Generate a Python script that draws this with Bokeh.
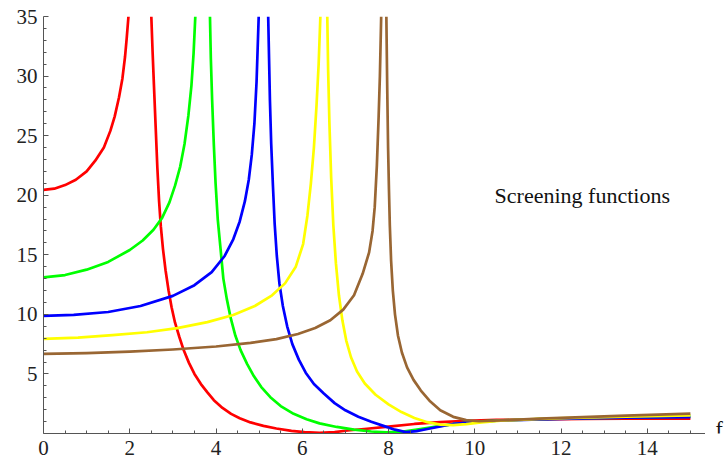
from bokeh.plotting import figure
from bokeh.models import FixedTicker, Label, Range1d
from bokeh.layouts import row
from bokeh.embed import file_html
from bokeh.resources import INLINE

# ---------------- data ----------------
x_major = [0, 2, 4, 6, 8, 10, 12, 14]
x_minor = [0.5, 1, 1.5, 2.5, 3, 3.5, 4.5, 5, 5.5, 6.5, 7, 7.5, 8.5, 9, 9.5,
           10.5, 11, 11.5, 12.5, 13, 13.5, 14.5, 15]
y_major = [5, 10, 15, 20, 25, 30, 35]
y_minor = [1, 2, 3, 4, 6, 7, 8, 9, 11, 12, 13, 14, 16, 17, 18, 19, 21, 22, 23, 24,
           26, 27, 28, 29, 31, 32, 33, 34]

red_left_x = [0, 0.25, 0.5, 0.75, 1.0, 1.2, 1.4, 1.55, 1.65, 1.75, 1.83, 1.89, 1.93, 1.97]
red_left_y = [20.45, 20.55, 20.85, 21.3, 22.0, 22.9, 24.0, 25.4, 26.6, 28.2, 29.8, 31.6, 33.2, 35.0]
red_right_x = [2.50, 2.53, 2.56, 2.60, 2.64, 2.68, 2.72, 2.77, 2.83, 2.90, 2.97, 3.05, 3.15,
               3.25, 3.37, 3.50, 3.65, 3.80, 3.95, 4.15, 4.35, 4.55, 4.8, 5.1, 5.4, 5.75,
               6.05, 6.4, 6.75, 7.05, 7.5, 8.0, 8.6, 9.2, 9.8, 10.5, 11.5, 12.5, 13.5, 15]
red_right_y = [35, 32, 29.3, 25.8, 22.3, 19.5, 17.4, 15.5, 13.7, 12.0, 10.6, 9.3, 8.1,
               7.0, 5.95, 5.0, 4.15, 3.45, 2.8, 2.15, 1.65, 1.28, 0.93, 0.64, 0.42, 0.22,
               0.11, 0.05, 0.12, 0.25, 0.4, 0.58, 0.8, 0.96, 1.07, 1.14, 1.19, 1.22, 1.24, 1.25]

green_left_x = [0, 0.5, 1.0, 1.5, 2.0, 2.3, 2.55, 2.75, 2.92, 3.05, 3.17, 3.27, 3.36, 3.43, 3.48, 3.52]
green_left_y = [13.1, 13.3, 13.75, 14.4, 15.4, 16.2, 17.1, 18.1, 19.4, 20.8, 22.4, 24.3, 26.7, 29.2, 31.9, 35]
green_right_x = [3.86, 3.88, 3.91, 3.95, 3.99, 4.04, 4.10, 4.17, 4.25, 4.34, 4.45, 4.57, 4.72,
                 4.88, 5.05, 5.26, 5.5, 5.8, 6.1, 6.4, 6.8, 7.2, 7.6, 7.95, 8.3, 8.7, 9.1,
                 9.5, 10.0, 10.5, 11.5, 12.5, 13.5, 15]
green_right_y = [35, 31.5, 28.0, 24.2, 21.0, 18.0, 15.7, 13.0, 11.3, 9.7, 8.2, 7.0, 5.85,
                 4.8, 3.9, 3.05, 2.3, 1.65, 1.2, 0.85, 0.55, 0.33, 0.17, 0.1, 0.15, 0.35, 0.58,
                 0.78, 0.97, 1.08, 1.2, 1.28, 1.34, 1.42]

blue_left_x = [0, 0.7, 1.5, 2.25, 3.0, 3.5, 3.9, 4.2, 4.4, 4.55, 4.67, 4.76, 4.83, 4.89, 4.94, 4.99]
blue_left_y = [9.88, 9.95, 10.2, 10.7, 11.55, 12.45, 13.55, 14.9, 16.3, 17.8, 19.5, 21.3, 23.4, 26.0, 29.5, 35]
blue_right_x = [5.21, 5.23, 5.25, 5.28, 5.32, 5.36, 5.41, 5.47, 5.55, 5.65, 5.77, 5.92, 6.08,
                6.27, 6.5, 6.75, 7.0, 7.3, 7.6, 7.9, 8.15, 8.4, 8.65, 8.9, 9.2, 9.5, 10.0,
                10.5, 11.5, 12.5, 13.5, 15]
blue_right_y = [35, 31.5, 28.0, 24.3, 20.8, 17.6, 14.9, 12.6, 10.7, 9.0, 7.5, 6.2, 5.1,
                4.15, 3.35, 2.55, 1.95, 1.4, 0.98, 0.62, 0.32, 0.12, 0.2, 0.38, 0.6, 0.8, 0.96,
                1.07, 1.19, 1.27, 1.33, 1.38]

yellow_left_x = [0, 0.8, 1.6, 2.4, 3.1, 3.8, 4.4, 4.9, 5.3, 5.6, 5.85, 6.02, 6.12, 6.2, 6.27, 6.33, 6.38, 6.42]
yellow_left_y = [7.95, 8.05, 8.25, 8.5, 8.85, 9.35, 9.95, 10.7, 11.6, 12.6, 14.0, 15.9, 18.3, 21.0, 24.0, 27.5, 31.0, 35]
yellow_right_x = [6.58, 6.60, 6.63, 6.67, 6.72, 6.78, 6.85, 6.93, 7.02, 7.13, 7.27, 7.45, 7.7,
                  8.0, 8.3, 8.6, 8.9, 9.2, 9.5, 9.8, 10.1, 10.6, 11.5, 12.5, 13.5, 15]
yellow_right_y = [35, 30.5, 26, 21.5, 17.5, 14.3, 11.6, 9.5, 7.8, 6.4, 5.2, 4.2, 3.25,
                  2.45, 1.8, 1.3, 0.95, 0.75, 0.7, 0.78, 0.92, 1.08, 1.22, 1.33, 1.42, 1.52]

brown_left_x = [0, 1, 2, 3, 4, 4.8, 5.4, 5.9, 6.3, 6.65, 6.95, 7.2, 7.4, 7.55, 7.63, 7.68, 7.73, 7.77, 7.80, 7.83]
brown_left_y = [6.68, 6.75, 6.88, 7.05, 7.3, 7.6, 7.92, 8.35, 8.85, 9.5, 10.4, 11.6, 13.4, 15.2, 17.0, 19.0, 22.5, 26.5, 30.0, 35]
brown_right_x = [7.95, 7.97, 7.99, 8.01, 8.03, 8.06, 8.10, 8.15, 8.22, 8.31, 8.43, 8.58, 8.75,
                 8.95, 9.2, 9.5, 9.8, 10.1, 10.6, 11.5, 12.5, 13.5, 15]
brown_right_y = [35, 29, 24, 20.5, 17.5, 14.5, 12.0, 10.0, 8.2, 6.8, 5.55, 4.5, 3.6,
                 2.75, 1.95, 1.4, 1.12, 1.03, 1.1, 1.25, 1.38, 1.5, 1.66]

series = [
    ("#FF0000", red_left_x, red_left_y, red_right_x, red_right_y),
    ("#00FF00", green_left_x, green_left_y, green_right_x, green_right_y),
    ("#0000FF", blue_left_x, blue_left_y, blue_right_x, blue_right_y),
    ("#FFFF00", yellow_left_x, yellow_left_y, yellow_right_x, yellow_right_y),
    ("#996633", brown_left_x, brown_left_y, brown_right_x, brown_right_y),
]

note_text = "Screening functions"
x_label = "f"

# ---------------- main figure ----------------
FONT = "Liberation Serif"
p = figure(width=705, height=463, output_backend="svg", toolbar_location=None,
           x_range=Range1d(0, 15.35), y_range=Range1d(0, 35),
           min_border_left=43, min_border_right=0, min_border_top=16,
           min_border_bottom=30)
p.outline_line_color = None
p.grid.visible = False
p.background_fill_color = "white"
p.border_fill_color = "white"

for color, lx, ly, rx, ry in series:
    p.line(lx, ly, line_color=color, line_width=2.7, line_join="round")
    p.line(rx, ry, line_color=color, line_width=2.7, line_join="round")

p.xaxis.ticker = FixedTicker(ticks=x_major, minor_ticks=x_minor)
p.yaxis.ticker = FixedTicker(ticks=y_major, minor_ticks=y_minor)

for ax in (p.xaxis[0], p.yaxis[0]):
    ax.axis_line_color = "#555555"
    ax.major_tick_line_color = "#555555"
    ax.minor_tick_line_color = "#555555"
    ax.major_tick_in = 5
    ax.major_tick_out = 0
    ax.minor_tick_in = 3
    ax.minor_tick_out = 0
    ax.major_label_text_font = FONT
    ax.major_label_text_font_size = "21px"
    ax.major_label_text_color = "#222222"
p.xaxis.major_label_standoff = 7
p.yaxis.major_label_standoff = 6

p.add_layout(Label(x=10.46, y=20.0, text=note_text, text_font=FONT,
                   text_font_size="22px", text_baseline="middle",
                   text_color="#111111"))

# ---------------- narrow strip holding the axis name "f" ----------------
p2 = figure(width=21, height=463, output_backend="svg", toolbar_location=None,
            x_range=Range1d(0, 21), y_range=Range1d(0, 463),
            x_axis_type=None, y_axis_type=None,
            min_border_left=0, min_border_right=0, min_border_top=0,
            min_border_bottom=0)
p2.outline_line_color = None
p2.grid.visible = False
p2.add_layout(Label(x=10, y=5, text=x_label, text_font=FONT,
                    text_font_size="22px", text_baseline="alphabetic",
                    text_color="#111111"))

layout = row(p, p2)
open("out.html", "w").write(file_html(layout, INLINE))
